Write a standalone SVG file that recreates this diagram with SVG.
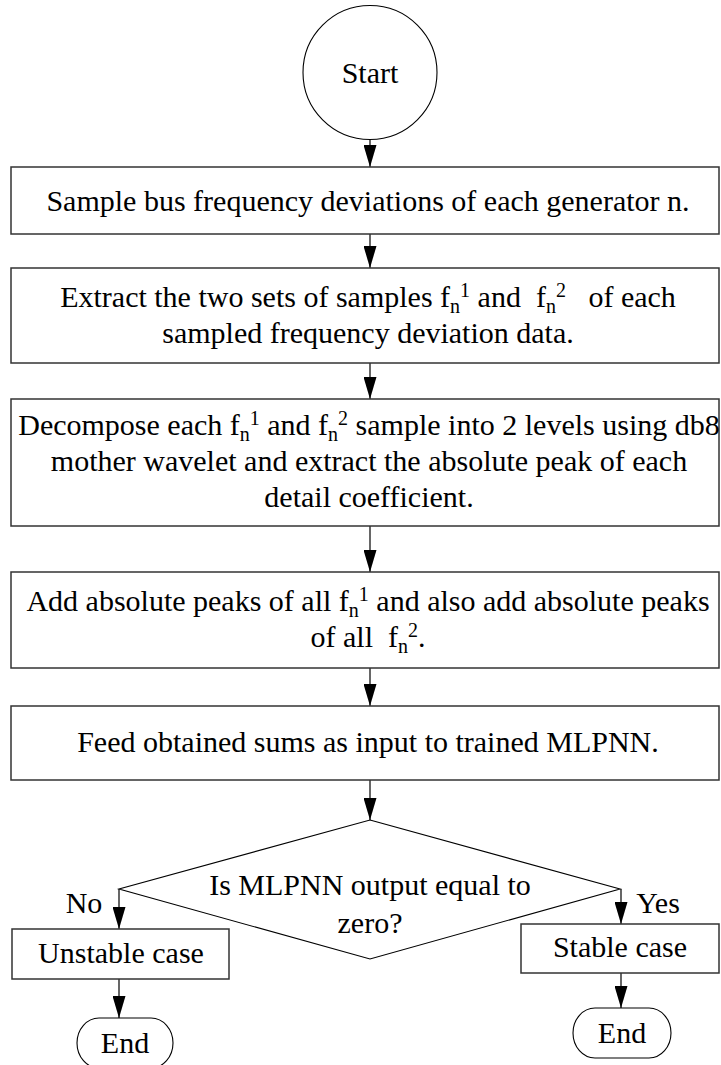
<svg xmlns="http://www.w3.org/2000/svg" width="721" height="1065" viewBox="0 0 721 1065">
<style>
text{font-family:'Liberation Serif','DejaVu Serif',serif;font-size:30px;fill:#000;text-anchor:middle}
tspan.s{font-size:20px}
.box{fill:#fff;stroke:#333;stroke-width:1.5}
.thin{fill:#fff;stroke:#000;stroke-width:1.1}
.c{stroke:#000;stroke-width:1.2;fill:none;marker-end:url(#ah)}
</style>
<defs>
<marker id="ah" markerUnits="userSpaceOnUse" markerWidth="22" markerHeight="13" refX="22" refY="6.5" orient="auto">
<path d="M0,0 L22,6.5 L0,13 z" fill="#000"/>
</marker>
</defs>
<rect width="721" height="1065" fill="#fff"/>
<g id="connectors">
<line class="c" x1="370" y1="139" x2="370" y2="167"/>
<line class="c" x1="370" y1="234" x2="370" y2="268"/>
<line class="c" x1="370" y1="363" x2="370" y2="399"/>
<line class="c" x1="370" y1="526" x2="370" y2="572"/>
<line class="c" x1="370" y1="668" x2="370" y2="706"/>
<line class="c" x1="370" y1="780" x2="370" y2="820"/>
<line class="c" x1="119" y1="889" x2="119" y2="929"/>
<line class="c" x1="621" y1="889" x2="621" y2="924"/>
<line class="c" x1="119" y1="979" x2="119" y2="1018"/>
<line class="c" x1="621" y1="973" x2="621" y2="1008"/>
</g>
<g id="start">
<circle class="thin" cx="370" cy="72.5" r="67"/>
<text x="370" y="83" font-family="Liberation Serif">Start</text>
</g>
<g id="step1">
<rect class="box" x="11" y="167" width="708" height="67"/>
<text x="368" y="211">Sample bus frequency deviations of each generator n.</text>
</g>
<g id="step2">
<rect class="box" x="11" y="268" width="708" height="95"/>
<text x="368" y="307" xml:space="preserve">Extract the two sets of samples f<tspan class="s" dy="6">n</tspan><tspan class="s" dy="-16">1</tspan><tspan dy="10"> and  f</tspan><tspan class="s" dy="6">n</tspan><tspan class="s" dy="-16">2</tspan><tspan dy="10">   of each</tspan></text>
<text x="368" y="343">sampled frequency deviation data.</text>
</g>
<g id="step3">
<rect class="box" x="11" y="399" width="708" height="127"/>
<text x="369" y="435">Decompose each f<tspan class="s" dy="6">n</tspan><tspan class="s" dy="-16">1</tspan><tspan dy="10"> and f</tspan><tspan class="s" dy="6">n</tspan><tspan class="s" dy="-16">2</tspan><tspan dy="10"> sample into 2 levels using db8</tspan></text>
<text x="369" y="471">mother wavelet and extract the absolute peak of each</text>
<text x="369" y="507">detail coefficient.</text>
</g>
<g id="step4">
<rect class="box" x="11" y="572" width="708" height="96"/>
<text x="368" y="611">Add absolute peaks of all f<tspan class="s" dy="6">n</tspan><tspan class="s" dy="-16">1</tspan><tspan dy="10"> and also add absolute peaks</tspan></text>
<text x="368" y="647" xml:space="preserve">of all  f<tspan class="s" dy="6">n</tspan><tspan class="s" dy="-16">2</tspan><tspan dy="10">.</tspan></text>
</g>
<g id="step5">
<rect class="box" x="11" y="706" width="708" height="74"/>
<text x="368" y="752">Feed obtained sums as input to trained MLPNN.</text>
</g>
<g id="decision">
<polygon class="thin" points="370,820 620,889 370,959 119,889"/>
<text x="370" y="895">Is MLPNN output equal to</text>
<text x="370" y="933">zero?</text>
</g>
<g id="labels">
<text x="84" y="913">No</text>
<text x="658" y="913">Yes</text>
</g>
<g id="unstable">
<rect class="box" x="12" y="929" width="217" height="50"/>
<text x="121" y="963">Unstable case</text>
</g>
<g id="stable">
<rect class="box" x="521" y="924" width="198" height="49"/>
<text x="620" y="957">Stable case</text>
</g>
<g id="end1">
<rect class="thin" x="77" y="1018" width="96" height="50" rx="22" ry="25"/>
<text x="125" y="1053">End</text>
</g>
<g id="end2">
<rect class="thin" x="573" y="1008" width="98" height="50" rx="22" ry="25"/>
<text x="622" y="1043">End</text>
</g>
</svg>
